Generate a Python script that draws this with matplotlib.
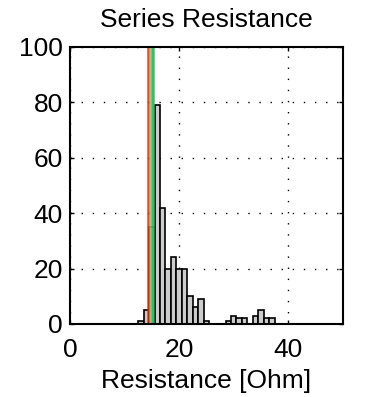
import numpy as np
import matplotlib.pyplot as plt

plt.rcParams['font.family'] = ['Liberation Sans', 'DejaVu Sans']

# histogram of series resistance (1 Ohm bins)
bin_centers = [13, 14, 15, 16, 17, 18, 19, 20, 21, 22, 23, 24, 25,
               29, 30, 31, 32, 34, 35, 36, 37]
counts = [1, 5, 35, 79, 42, 20, 24, 20, 20, 10, 6, 9, 1,
          1, 3, 2, 2, 3, 5, 2, 2]

# summary markers drawn as vertical lines
marker_x = [14.3, 14.6, 14.95, 15.25]
marker_colors = ['#c83030', '#eaa020', '#30b8e0', '#20c040']

fig = plt.figure(figsize=(3.66, 3.97), dpi=100)
ax = fig.add_axes([0.191, 0.184, 0.746, 0.698])

ax.bar(bin_centers, counts, width=1.0, color='#cccccc',
       edgecolor='black', linewidth=1.2, zorder=2)

for xv, c in zip(marker_x, marker_colors):
    ax.axvline(xv, color=c, linewidth=1.8, alpha=0.85, zorder=3)

ax.set_xlim(0, 50)
ax.set_ylim(0, 100)
ax.set_xticks([0, 20, 40])
ax.set_yticks([0, 20, 40, 60, 80, 100])
ax.grid(True, color='black', linestyle=(0, (1, 7)), linewidth=1.0, zorder=1)
ax.tick_params(direction='in', length=3, width=1, labelsize=19,
               top=True, right=True)
ax.tick_params(axis='x', pad=10)
ax.tick_params(axis='y', pad=5)
for sp in ax.spines.values():
    sp.set_linewidth(1.5)
    sp.set_zorder(4)

ax.set_title('Series Resistance', fontsize=19, pad=14)
ax.set_xlabel('Resistance [Ohm]', fontsize=19, labelpad=5)
ax.set_ylabel('Counts', fontsize=19)
ax.yaxis.set_label_coords(-0.29, 0.5)

fig.savefig('out.png', dpi=100)
